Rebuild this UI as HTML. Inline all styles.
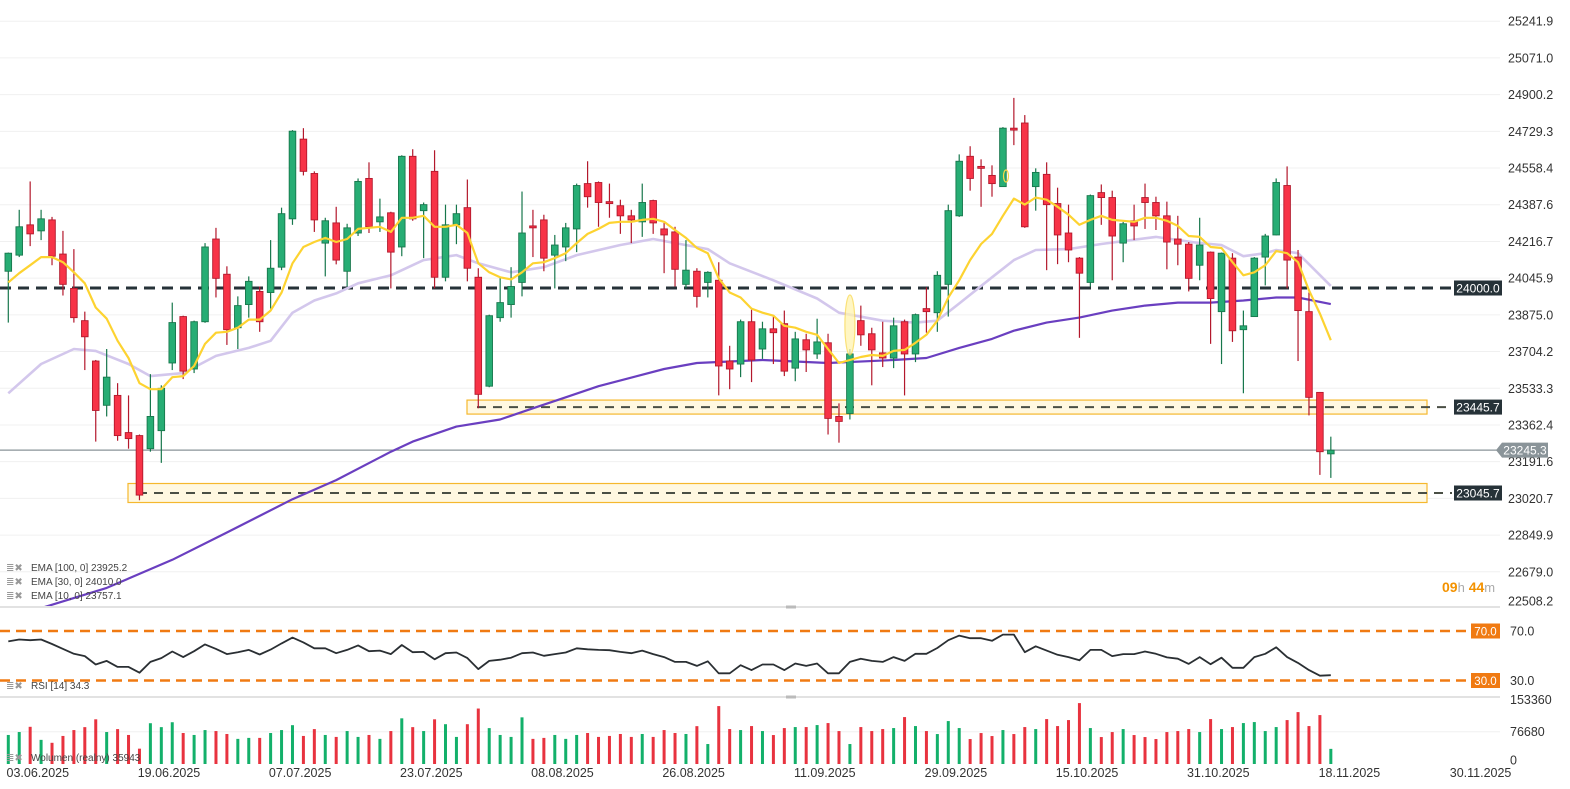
<!DOCTYPE html>
<html><head><meta charset="utf-8"><title>Chart</title>
<style>
html,body{margin:0;padding:0;background:#fff;}
body{width:1570px;height:789px;overflow:hidden;font-family:"Liberation Sans",sans-serif;}
svg{display:block}
text{font-family:"Liberation Sans",sans-serif;}
</style></head>
<body>
<svg id="chart" width="1570" height="789" viewBox="0 0 1570 789" xmlns="http://www.w3.org/2000/svg">
<defs><clipPath id="mainClip"><rect x="0" y="0" width="1500" height="606"/></clipPath></defs>
<g id="grid"></g>
<g id="yaxis"></g>
<g id="zones"></g>
<g id="main" clip-path="url(#mainClip)"></g>
<g id="tags"></g>
<line x1="0" y1="607" x2="1500" y2="607" stroke="#d9d9d9" stroke-width="1.5"/>
<rect x="786" y="605.5" width="10" height="3" fill="#bbb"/>
<line x1="0" y1="697" x2="1500" y2="697" stroke="#d9d9d9" stroke-width="1.5"/>
<rect x="786" y="695.5" width="10" height="3" fill="#bbb"/>
<g id="rsi"></g>
<g id="vol"></g>
<g id="xaxis"></g>
<g font-size="10" fill="#444">
  <g><text x="6" y="571" fill="#999" font-size="10">≣✖</text><text x="31" y="571">EMA [100, 0] 23925.2</text></g>
  <g><text x="6" y="585" fill="#999" font-size="10">≣✖</text><text x="31" y="585">EMA [30, 0] 24010.0</text></g>
  <g><text x="6" y="599" fill="#999" font-size="10">≣✖</text><text x="31" y="599">EMA [10, 0] 23757.1</text></g>
</g>
<g font-size="10"><text x="6" y="689" fill="#999">≣✖</text><text x="31" y="689" fill="#444">RSI [14] 34.3</text></g>
<g font-size="10"><text x="6" y="761" fill="#999">≣✖</text><text x="31" y="761" fill="#444">Wolumen (realny) 35943</text></g>
<g><text x="1442" y="592" font-size="14" font-weight="bold" fill="#f39200">09<tspan fill="#aaa" font-weight="normal" font-size="13">h</tspan> 44<tspan fill="#aaa" font-weight="normal" font-size="13">m</tspan></text></g>
</svg>
<script>
const opens=[24078,24153,24294,24266,24317,24158,23998,23848,23660,23454,23500,23327,23313,23252,23336,23651,23867,23623,23843,24228,24064,23815,23923,23984,23979,24097,24322,24693,24533,24209,24303,24078,24256,24510,24308,24350,24191,24613,24360,24543,24050,24294,24374,24050,23543,23862,23923,24026,24289,24317,24153,24191,24275,24486,24491,24402,24383,24336,24308,24407,24275,24261,24017,24078,24026,24036,23660,23646,23843,23716,23810,23834,23627,23759,23693,23745,23402,23416,23848,23787,23698,23674,23843,23693,23904,23885,24017,24336,24613,24566,24524,24472,24744,24768,24472,24529,24393,24256,24139,24026,24444,24421,24209,24313,24421,24398,24336,24228,24204,24106,24167,23890,24139,23806,23867,24144,24247,24477,24144,23890,23514,23228];
const highs=[24165,24364,24496,24364,24331,24266,24181,23890,23665,23716,23557,23500,23318,23599,23547,23932,23871,23848,24209,24280,24101,23961,24054,24007,24223,24374,24735,24744,24543,24327,24378,24299,24510,24585,24416,24355,24618,24646,24398,24641,24388,24388,24505,24092,23876,24050,24097,24449,24364,24341,24247,24303,24486,24590,24496,24486,24411,24364,24486,24411,24303,24285,24223,24092,24078,24120,23731,23853,23899,23843,23867,23895,23796,23787,23857,23787,23463,23716,23918,23815,23843,23862,23853,23881,24003,24078,24388,24622,24660,24599,24571,24749,24885,24805,24557,24585,24467,24388,24144,24435,24482,24453,24308,24388,24486,24425,24402,24336,24214,24327,24170,24165,24162,23895,24144,24252,24510,24566,24177,23979,23516,23308];
const lows=[23839,24144,24195,24223,24106,23965,23839,23618,23285,23402,23289,23252,23012,23238,23186,23618,23576,23604,23838,23956,23735,23716,23862,23796,23904,24083,24294,24524,24261,24054,24110,24007,24242,24256,24261,23998,24148,24313,24139,23998,24031,24204,24031,23440,23538,23843,23862,23961,24144,24078,23998,24125,24167,24374,24285,24327,24252,24209,24238,24252,24069,24007,23998,23909,23956,23500,23529,23585,23562,23670,23646,23590,23566,23609,23670,23318,23280,23388,23731,23547,23632,23627,23500,23655,23792,23796,23867,24331,24453,24378,24425,24472,24665,24280,24360,24083,24111,24120,23768,24007,24294,24036,24120,24223,24275,24270,24087,24106,23984,24036,23740,23646,23749,23510,23865,24012,24245,23998,23660,23407,23130,23116];
const closes=[24162,24285,24252,24322,24148,24017,23862,23773,23430,23585,23313,23299,23036,23402,23533,23839,23613,23843,24191,24045,23806,23918,24031,23843,24092,24346,24730,24543,24317,24313,24130,24280,24496,24285,24331,24167,24613,24322,24388,24050,24294,24346,24092,23505,23871,23932,24007,24256,24280,24139,24200,24280,24477,24425,24398,24393,24336,24317,24398,24303,24247,24087,24083,23961,24073,23637,23623,23843,23665,23810,23792,23613,23763,23712,23749,23393,23379,23693,23782,23712,23674,23824,23693,23876,23890,24059,24360,24590,24510,24557,24486,24744,24735,24285,24538,24388,24247,24177,24069,24430,24421,24242,24299,24289,24398,24336,24214,24204,24045,24200,23951,24162,23801,23824,24139,24242,24491,24130,23895,23491,23238,23245];
const ema10=[24026,24069,24106,24144,24144,24120,24073,24022,23909,23857,23754,23674,23557,23529,23529,23585,23590,23637,23740,23792,23796,23815,23853,23853,23895,23979,24115,24191,24214,24233,24214,24228,24275,24280,24285,24261,24327,24327,24336,24285,24285,24294,24256,24115,24073,24050,24040,24073,24115,24120,24139,24162,24209,24252,24275,24303,24308,24308,24317,24322,24308,24270,24233,24186,24162,24045,23979,23956,23904,23885,23871,23824,23815,23796,23782,23716,23651,23665,23679,23688,23684,23707,23712,23745,23782,23848,23956,24036,24130,24205,24252,24336,24416,24388,24421,24411,24378,24341,24294,24317,24336,24317,24313,24308,24327,24327,24313,24289,24242,24238,24191,24186,24120,24059,24073,24106,24172,24162,24120,23989,23881,23757];
const ema30Idx=[0,3,6,8,11,13,16,19,22,24,26,28,30,32,35,38,41,43,46,49,52,56,59,64,66,70,74,76,80,83,85,87,90,92,94,97,100,105,109,111,113,115,116,118,121];
const ema30Val=[23510,23646,23716,23707,23646,23590,23604,23684,23721,23754,23885,23942,23975,24022,24059,24130,24153,24115,24073,24097,24153,24200,24228,24181,24115,24036,23951,23885,23848,23839,23848,23928,24050,24130,24177,24181,24205,24238,24209,24200,24148,24162,24177,24162,24010];
const ema100Idx=[3,9,15,20,26,30,35,37,41,45,48,51,54,60,63,69,75,81,84,87,90,92,95,98,101,104,107,110,113,116,118,121];
const ema100Val=[22510,22604,22735,22862,23017,23106,23238,23285,23355,23388,23440,23491,23543,23623,23651,23665,23651,23665,23674,23721,23763,23801,23839,23862,23895,23918,23932,23932,23942,23956,23956,23925];
const rsi=[61.6,63.1,62.6,63.1,59.5,55.5,51.6,49.7,42.9,45.8,41.0,41.0,36.3,45.0,48.1,53.4,48.9,53.7,59.2,55.5,51.3,52.9,54.7,51.0,55.0,60.0,64.7,60.8,56.0,56.0,52.1,54.7,58.4,53.7,54.2,51.3,58.7,52.9,53.1,47.1,52.1,52.6,48.1,39.2,45.8,46.8,48.4,52.1,52.6,50.0,51.3,52.6,56.0,55.2,54.7,54.5,53.1,52.1,54.2,51.3,48.9,45.0,45.0,41.8,45.5,35.8,35.8,42.4,38.4,42.9,42.9,38.4,43.7,41.8,43.7,35.8,35.8,45.0,47.6,45.8,45.0,48.9,45.8,51.6,51.6,56.3,62.6,66.3,64.2,64.2,62.1,67.1,67.1,52.9,57.6,54.2,50.8,48.9,46.3,54.7,54.7,49.7,51.3,51.3,53.4,51.6,48.7,47.6,43.4,48.9,43.2,48.4,40.3,40.3,48.9,51.6,56.8,48.9,44.2,38.4,33.9,34.3];
const volumes=[68930,75900,88290,57310,50340,66610,80550,87520,106100,75900,82870,68930,36400,96810,87520,99140,73580,68930,80550,78220,71250,59640,61960,61960,73580,80550,92170,66610,82870,68930,64280,78220,64280,68930,59640,78220,108430,87520,78220,106100,94490,64280,94490,131670,85200,68930,64280,110750,59640,61960,68930,59640,68930,73580,64280,66610,71250,64280,71250,64280,80550,73580,71250,89840,47400,137460,82950,80580,90060,78210,68730,85320,87690,87690,92430,97170,78210,47400,87690,78210,82950,85320,111390,90060,78210,71100,101910,85320,59250,73470,66360,80580,71100,87690,82950,106650,90060,104280,144570,85320,63990,75840,82950,68730,63990,59250,75840,78210,82950,75840,106650,82950,87690,97170,99540,78210,87690,104280,123240,90060,116130,35943];
const priceTicks=["25241.9","25071.0","24900.2","24729.3","24558.4","24387.6","24216.7","24045.9","23875.0","23704.2","23533.3","23362.4","23191.6","23020.7","22849.9","22679.0","22508.2"];
const dateLabels=["03.06.2025","19.06.2025","07.07.2025","23.07.2025","08.08.2025","26.08.2025","11.09.2025","29.09.2025","15.10.2025","31.10.2025","18.11.2025","30.11.2025"];
const dateIdx=[2.7,14.7,26.7,38.7,50.7,62.7,74.7,86.7,98.7,110.7,122.7,134.7];
const levels=[24000.0,23445.7,23045.7];
const currentPrice=23245.3;

const NS="http://www.w3.org/2000/svg";
const xS=i=>8.3+10.93*i;
const yP=p=>288+(24000-p)/4.655;
const yR=v=>680.5-(v-30)*(49.5/40);
const yV=v=>764-v*(32.3/76680);
function mk(parent,tag,attrs){const e=document.createElementNS(NS,tag);for(const k in attrs)e.setAttribute(k,attrs[k]);parent.appendChild(e);return e;}
const G=id=>document.getElementById(id);

// grid + price axis
priceTicks.forEach((t,k)=>{
  const y=yP(parseFloat(t));
  if(y<605){const ln=mk(G('grid'),'line',{x1:0,x2:1500,y1:y,y2:y,stroke:'#f0f0f0','stroke-width':1});
  
  }
  const tx=mk(G('yaxis'),'text',{x:1508,y:Math.min(y,601)+4.5,'font-size':12.5,fill:'#333'});
  tx.textContent=t;
  
  
});

// zones
function zone(x1,lv,h,nm){
  const y=yP(lv);
  const r=mk(G('zones'),'rect',{x:x1,y:y-h/2,width:1427-x1,height:h,fill:'#fff8e1',stroke:'#f5b82e','stroke-width':1.2});
  
  
}
zone(467,levels[1],14,'resistance-zone-23445');
zone(128,levels[2],19,'support-zone-23045');

const M=G('main');
// level lines
const l0=mk(M,'line',{x1:0,x2:1452,y1:yP(levels[0]),y2:yP(levels[0]),stroke:'#263238','stroke-width':3,'stroke-dasharray':'11 7'});


const l1=mk(M,'line',{x1:477,x2:1452,y1:yP(levels[1]),y2:yP(levels[1]),stroke:'#4a4f45','stroke-width':2,'stroke-dasharray':'9 7'});


const l2=mk(M,'line',{x1:138,x2:1452,y1:yP(levels[2]),y2:yP(levels[2]),stroke:'#4a4f45','stroke-width':2,'stroke-dasharray':'9 7'});


const cp=mk(M,'line',{x1:0,x2:1500,y1:yP(currentPrice),y2:yP(currentPrice),stroke:'#8a9499','stroke-width':1.2});



// EMA lines
function poly(idx,vals,color,w,nm,op){
  const pts=idx.map((i,k)=>xS(i).toFixed(1)+','+yP(vals[k]).toFixed(1)).join(' ');
  const p=mk(M,'polyline',{points:pts,fill:'none',stroke:color,'stroke-width':w,'stroke-linejoin':'round',opacity:op||1});
  
  
}
poly(ema100Idx,ema100Val,'#6a3fc0',2.2,'ema-100-line');
poly(ema30Idx,ema30Val,'#d3c7ec',2.6,'ema-30-line');

// candles
for(let i=0;i<opens.length;i++){
  const up=closes[i]>=opens[i];
  const fill=up?'#27ad74':'#f73347', st=up?'#17774c':'#b3182c';
  const g=mk(M,'g',{});
  
  
  const cx=xS(i);
  mk(g,'line',{x1:cx,x2:cx,y1:yP(highs[i]),y2:yP(lows[i]),stroke:st,'stroke-width':1.2});
  const t=yP(Math.max(opens[i],closes[i])),b=yP(Math.min(opens[i],closes[i]));
  mk(g,'rect',{x:cx-3.3,y:t,width:6.6,height:Math.max(b-t,1.5),fill:fill,stroke:st,'stroke-width':0.9});
}
poly(ema10.map((v,i)=>i),ema10,'#fdd331',2.2,'ema-10-line');

// annotation ellipses
const e1=mk(M,'ellipse',{cx:xS(77),cy:325,rx:5,ry:30,fill:'#fff3b0',stroke:'#f9d84a','stroke-width':1.2,opacity:0.75});


const e2=mk(M,'ellipse',{cx:1006,cy:176,rx:2.5,ry:6,fill:'none',stroke:'#f9d84a','stroke-width':1.2});



// price tags
function tag(x,lv,txt,bg,w,nm,arrow){
  const y=yP(lv);const g=mk(G('tags'),'g',{});
  
  
  if(arrow) mk(g,'polygon',{points:`${x-6},${y} ${x},${y-7.5} ${x},${y+7.5}`,fill:bg});
  mk(g,'rect',{x:x,y:y-7.5,width:w,height:15,fill:bg});
  const t=mk(g,'text',{x:x+w/2,y:y+4.5,'font-size':12,fill:'#fff','text-anchor':'middle'});t.textContent=txt;
}
tag(1454,levels[0],'24000.0','#263238',48,'level-tag-24000');
tag(1454,levels[1],'23445.7','#263238',48,'level-tag-23445');
tag(1454,levels[2],'23045.7','#263238',48,'level-tag-23045');
tag(1502,currentPrice,'23245.3','#8a9499',46,'current-price-tag',true);

// RSI
const R=G('rsi');
[70,30].forEach(v=>{
  const ln=mk(R,'line',{x1:0,x2:1470,y1:yR(v),y2:yR(v),stroke:'#f07a12','stroke-width':2.4,'stroke-dasharray':'10 6'});
  
  
  const bx=mk(R,'rect',{x:1471,y:yR(v)-7.5,width:29,height:15,fill:'#f07a12'});
  
  
  const t=mk(R,'text',{x:1485.5,y:yR(v)+4.5,'font-size':11.5,fill:'#fff','text-anchor':'middle'});t.textContent=v.toFixed(1);
  const t2=mk(R,'text',{x:1510,y:yR(v)+4.5,'font-size':12.5,fill:'#333'});t2.textContent=v.toFixed(1);
  
  
});
const rl=mk(R,'polyline',{points:rsi.map((v,i)=>xS(i).toFixed(1)+','+yR(v).toFixed(1)).join(' '),fill:'none',stroke:'#2a2f33','stroke-width':1.8,'stroke-linejoin':'round'});



// Volume
const V=G('vol');
const vg=mk(V,'line',{x1:0,x2:1500,y1:yV(76680),y2:yV(76680),stroke:'#f0f0f0','stroke-width':1});


[["153360",153360],["76680",76680],["0",0]].forEach(([t,v])=>{
  const tx=mk(V,'text',{x:1510,y:Math.min(yV(v),760)+4.5,'font-size':12.5,fill:'#333'});tx.textContent=t;
  
  
});
volumes.forEach((v,i)=>{
  const up=closes[i]>=opens[i];
  const b=mk(V,'rect',{x:xS(i)-1.5,y:yV(v),width:3,height:764-yV(v),fill:up?'#13b06a':'#e8333f'});
  
  
});

// date axis
dateLabels.forEach((d,k)=>{
  const t=mk(G('xaxis'),'text',{x:xS(dateIdx[k]),y:777,'font-size':12.5,fill:'#333','text-anchor':'middle'});
  t.textContent=d;
  
  
});
</script>
</body></html>
